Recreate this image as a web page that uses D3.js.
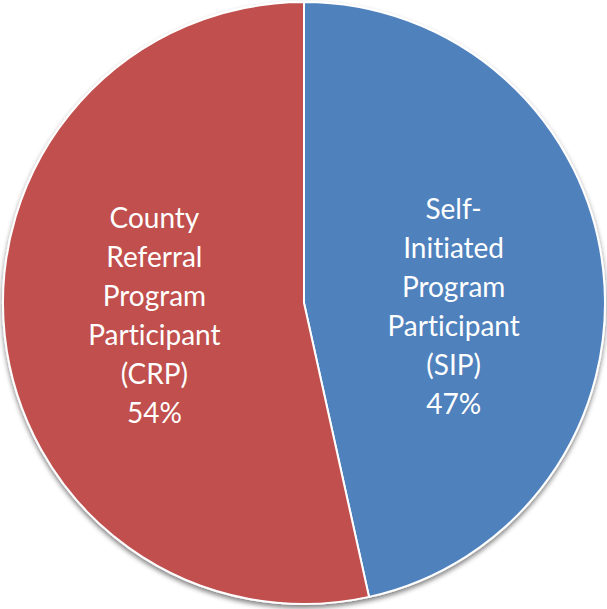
<!DOCTYPE html>
<html>
<head>
<meta charset="utf-8">
<script src="https://cdn.jsdelivr.net/npm/d3@7"></script>
<style>
    body { margin: 0; background: #fff; }
    text { font-family: Lato, "Open Sans", sans-serif; font-variant-ligatures: none; }
</style>
</head>
<body>
<script>
    // Data
    let categories = ["Self-Initiated Program Participant (SIP)", "County Referral Program Participant (CRP)"];
    let labelLines = [
        ["Self-", "Initiated", "Program", "Participant", "(SIP)"],
        ["County", "Referral", "Program", "Participant", "(CRP)"]
    ];
    let values = [47, 54];
    let pctLabels = ["47%", "54%"];
    let colors = ["#4F81BD", "#C0504D"];

    let width = 607, height = 609;
    let cx = 304, cy = 303, radius = 301;

    let svg = d3.select("body")
        .append("svg")
        .attr("width", width)
        .attr("height", height);

    // soft shadow under the pie
    let defs = svg.append("defs");
    let filter = defs.append("filter")
        .attr("id", "shadow")
        .attr("x", "-10%").attr("y", "-10%")
        .attr("width", "120%").attr("height", "120%");
    filter.append("feGaussianBlur").attr("in", "SourceAlpha").attr("stdDeviation", 2.5);
    filter.append("feOffset").attr("dx", 0).attr("dy", 3).attr("result", "blur");
    filter.append("feComponentTransfer").append("feFuncA").attr("type", "linear").attr("slope", 0.5);
    let merge = filter.append("feMerge");
    merge.append("feMergeNode");
    merge.append("feMergeNode").attr("in", "SourceGraphic");

    let g = svg.append("g")
        .attr("transform", `translate(${cx}, ${cy})`);

    let pie = d3.pie().sort(null).value((d) => d);
    let arcs = pie(values);

    let arc = d3.arc().innerRadius(0).outerRadius(radius);
    let labelArc = d3.arc().innerRadius(0).outerRadius(radius);

    g.append("g")
        .attr("filter", "url(#shadow)")
        .selectAll("path")
        .data(arcs)
        .enter()
        .append("path")
        .attr("d", arc)
        .attr("fill", (d, i) => colors[i])
        .attr("stroke", "#fff")
        .attr("stroke-width", 2);

    // Labels
    let lineH = 39;
    let labels = g.selectAll("text.label")
        .data(arcs)
        .enter()
        .append("text")
        .attr("class", "label")
        .attr("text-anchor", "middle")
        .attr("fill", "#fff")
        .attr("font-size", "28px")
        .attr("transform", (d) => {
            let c = labelArc.centroid(d);
            return `translate(${c[0]}, ${c[1]})`;
        });

    labels.each(function (d, i) {
        let lines = labelLines[i].concat([pctLabels[i]]);
        let t = d3.select(this);
        let offset = i === 0 ? 20 : -4;
        lines.forEach((ln, k) => {
            t.append("tspan")
                .attr("x", 0)
                .attr("y", (k - (lines.length - 1) / 2) * lineH + 10 + offset)
                .text(ln);
        });
    });
</script>
</body>
</html>
